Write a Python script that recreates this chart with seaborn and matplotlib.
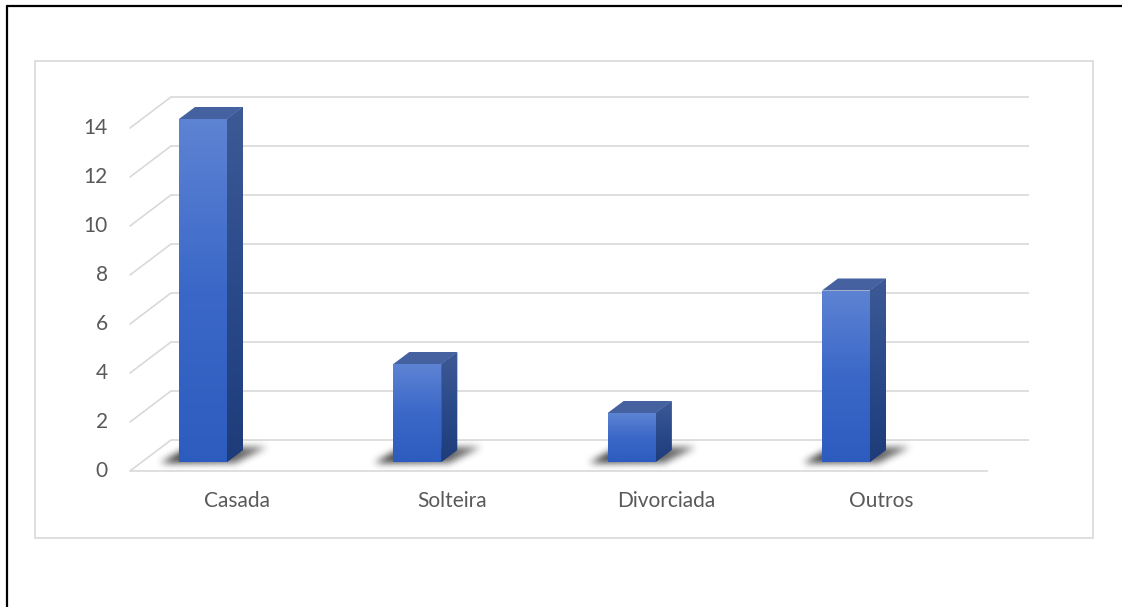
import numpy as np
import pandas as pd
import matplotlib
matplotlib.use("Agg")
import matplotlib.pyplot as plt
import seaborn as sns
from matplotlib.patches import Polygon, Rectangle
from matplotlib.lines import Line2D
from matplotlib.colors import LinearSegmentedColormap

# ---------------- data ----------------
categories = ["Casada", "Solteira", "Divorciada", "Outros"]
values = [14, 4, 2, 7]
ytick_values = [0, 2, 4, 6, 8, 10, 12, 14]

# ---------------- figure / scale ----------------
W, H = 1122, 607
sns.set_theme(style="white")
plt.rcParams['font.family'] = ['Lato', 'DejaVu Sans']
fig = plt.figure(figsize=(W / 100, H / 100), dpi=100)
ax = fig.add_axes([0, 0, 1, 1])

XS = 214.33   # px per category unit
YS = 24.5     # px per value unit
X0 = 203      # px of first bar centre
Y0 = 462      # px of bar base

df = pd.DataFrame({"cat": categories, "val": values})
sns.barplot(data=df, x="cat", y="val", ax=ax, width=48 / XS,
            color="#3d68c6", saturation=1, zorder=5)

ax.set_xlim((0 - X0) / XS, (W - X0) / XS)
ax.set_ylim((Y0 - H) / YS, Y0 / YS)
ax.axis("off")

# 3D geometry (in data units)
fx0, fx1 = (130 - X0) / XS, (988 - X0) / XS     # front plane x-range
fy = (Y0 - 471) / YS                             # front plane zero offset
ddx, ddy = 41 / XS, 31 / YS                      # wall depth
bdx, bdy = 16 / XS, 12 / YS                      # bar depth

grid_c = "#d9d9d9"
glw = 1.2
for v in ytick_values:
    yf = v + fy
    yb = v + fy + ddy
    ax.plot([fx0 + ddx, fx1 + ddx], [yb, yb], color=grid_c, lw=glw, zorder=1,
            solid_capstyle="butt")
    ax.plot([fx0, fx0 + ddx], [yf, yb], color=grid_c, lw=glw, zorder=1)
    ax.text(fx0 - 22 / XS, yf, str(v), ha="right", va="center",
            fontsize=15, color="#595959")
# front floor line
ax.plot([fx0, fx1], [fy, fy], color=grid_c, lw=glw, zorder=1,
        solid_capstyle="butt")

# category labels (centred on the front-plane category slots)
slot = (fx1 - fx0) / len(categories)
for i, c in enumerate(categories):
    ax.text(fx0 + slot * (i + 0.5), (Y0 - 501) / YS, c, ha="center", va="center",
            fontsize=15, color="#595959")

# colours
front_cmap = LinearSegmentedColormap.from_list("f", ["#2d5cbf", "#3b68c8", "#5d83d3"])
side_cmap = LinearSegmentedColormap.from_list("s", ["#1e3c7a", "#2b4a8a", "#3d5a96"])
top_col = "#45619f"

grad = np.linspace(0, 1, 256).reshape(-1, 1)


def blurred_shadow():
    # soft parallelogram shadow, pixel grid relative to bar front-left-bottom
    px = np.arange(-40, 110)
    py = np.arange(-30, 15)  # negative = up (towards back)
    XX, YY = np.meshgrid(px, py)
    # parallelogram: front edge at y=0 from x=-18..56, back edge y=-15 shifted +26
    t = np.clip(-YY / 15.0, 0, 1)
    inside = (YY <= 0) & (YY >= -15) & (XX >= -18 + 26 * t) & (XX <= 56 + 30 * t)
    a = inside.astype(float)
    # separable box blur a few times (~gaussian)
    k = np.ones(7) / 7
    for _ in range(3):
        a = np.apply_along_axis(lambda r: np.convolve(r, k, mode="same"), 1, a)
        a = np.apply_along_axis(lambda c: np.convolve(c, k, mode="same"), 0, a)
    # darker towards left/front
    shade = 1 - 0.35 * np.clip((XX + 18) / 110, 0, 1)
    img = np.zeros(a.shape + (4,))
    img[..., :3] = 0.12
    img[..., 3] = a * shade * 0.9
    return img, px, py


shadow_img, spx, spy = blurred_shadow()

for p in list(ax.patches):
    x, w, h = p.get_x(), p.get_width(), p.get_height()
    p.set_edgecolor("none")
    # shadow on floor (image rows: top row = most negative py = farthest back)
    ax.imshow(shadow_img,
              extent=[x + spx[0] / XS, x + (spx[-1] + 1) / XS,
                      -(spy[-1] + 1) / YS, -spy[0] / YS],
              origin="upper", aspect="auto", zorder=3, interpolation="bilinear")
    # front gradient
    im = ax.imshow(grad, extent=[x, x + w, 0, h], origin="lower", aspect="auto",
                   cmap=front_cmap, zorder=6, interpolation="bilinear")
    im.set_clip_path(p)
    # side face
    side = Polygon([(x + w, 0), (x + w + bdx, bdy), (x + w + bdx, h + bdy), (x + w, h)],
                   closed=True, facecolor="#2b4a8a", edgecolor="none", zorder=5)
    ax.add_patch(side)
    ims = ax.imshow(grad, extent=[x + w, x + w + bdx, 0, h + bdy], origin="lower",
                    aspect="auto", cmap=side_cmap, zorder=6, interpolation="bilinear")
    ims.set_clip_path(side)
    # top face
    top = Polygon([(x, h), (x + bdx, h + bdy), (x + w + bdx, h + bdy), (x + w, h)],
                  closed=True, facecolor=top_col, edgecolor="none", zorder=7)
    ax.add_patch(top)

ax.set_xlim((0 - X0) / XS, (W - X0) / XS)
ax.set_ylim((Y0 - H) / YS, Y0 / YS)

# inner chart frame
fig.add_artist(Rectangle((35 / W, 1 - 538 / H), (1093 - 35) / W, (538 - 61) / H,
                         transform=fig.transFigure, fill=False,
                         edgecolor="#d9d9d9", lw=1.2))
# outer black border (left and top)
fig.add_artist(Line2D([7 / W, 7 / W], [0, 1 - 6 / H], transform=fig.transFigure,
                      color="black", lw=1.6))
fig.add_artist(Line2D([7 / W, 1], [1 - 6 / H, 1 - 6 / H], transform=fig.transFigure,
                      color="black", lw=1.6))

fig.savefig("out.png", dpi=100, facecolor="white")
